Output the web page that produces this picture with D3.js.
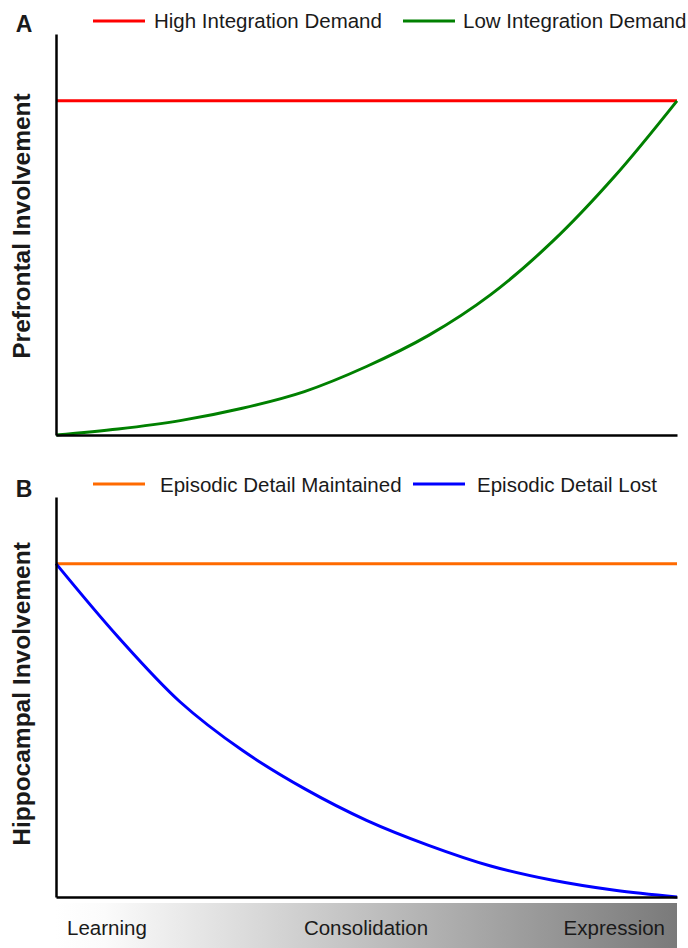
<!DOCTYPE html>
<html>
<head>
<meta charset="utf-8">
<script src="https://cdn.jsdelivr.net/npm/d3@7"></script>
<style>
  body { margin: 0; background: #fff; }
  text { font-family: "Liberation Sans", Arial, sans-serif; fill: #1a1a1a; }
</style>
</head>
<body>
<div id="chart-area"></div>
<script>
// time along the memory timeline (0 = learning, 1 = expression)
var timePoints = [0, 0.1, 0.2, 0.3, 0.4, 0.5, 0.6, 0.7, 0.8, 0.9, 1.0];

// panel A - prefrontal involvement
var highIntegration = [1, 1, 1, 1, 1, 1, 1, 1, 1, 1, 1];
var lowIntegration  = [0, 0.018, 0.043, 0.08, 0.13, 0.205, 0.298, 0.42, 0.58, 0.775, 1.0];

// panel B - hippocampal involvement
var detailMaintained = [1, 1, 1, 1, 1, 1, 1, 1, 1, 1, 1];
var detailLost       = [1.0, 0.78, 0.585, 0.44, 0.325, 0.23, 0.155, 0.093, 0.05, 0.02, 0];

var stageLabels = ["Learning", "Consolidation", "Expression"];

var width = 688, height = 948;

var svg = d3.select("#chart-area")
    .append("svg")
        .attr("width", width)
        .attr("height", height);

var x = d3.scaleLinear()
    .domain([0, 1])
    .range([56, 677]);

var panels = [
    {
        letter: "A", letterY: 32, top: 34, bottom: 435,
        yLabel: "Prefrontal Involvement", yLabelMid: 226,
        legendY: 21, textY: 28,
        series: [
            { name: "High Integration Demand", values: highIntegration, color: "#ff0000", lx: 93, tx: 154 },
            { name: "Low Integration Demand", values: lowIntegration, color: "#008000", lx: 403, tx: 463 }
        ]
    },
    {
        letter: "B", letterY: 497, top: 497, bottom: 897,
        yLabel: "Hippocampal Involvement", yLabelMid: 694,
        legendY: 484, textY: 492,
        series: [
            { name: "Episodic Detail Maintained", values: detailMaintained, color: "#ff6a00", lx: 93, tx: 160 },
            { name: "Episodic Detail Lost", values: detailLost, color: "#0000ff", lx: 413, tx: 477 }
        ]
    }
];

panels.forEach(function(p) {
    var y = d3.scaleLinear()
        .domain([0, 1.2])
        .range([p.bottom, p.top]);

    var line = d3.line()
        .x(function(d) { return x(d.t); })
        .y(function(d) { return y(d.v); })
        .curve(d3.curveCatmullRom.alpha(0.5));

    // series + legend
    p.series.forEach(function(s) {
        var pts = timePoints.map(function(t, i) { return { t: t, v: s.values[i] }; });
        svg.append("path")
            .attr("d", line(pts))
            .attr("fill", "none")
            .attr("stroke", s.color)
            .attr("stroke-width", 3);

        svg.append("line")
            .attr("x1", s.lx).attr("x2", s.lx + 52)
            .attr("y1", p.legendY).attr("y2", p.legendY)
            .attr("stroke", s.color)
            .attr("stroke-width", 3);
        svg.append("text")
            .attr("x", s.tx)
            .attr("y", p.textY)
            .attr("font-size", "20.5px")
            .text(s.name);
    });

    // axes, no ticks
    svg.append("g")
        .attr("transform", "translate(0," + p.bottom + ")")
        .call(d3.axisBottom(x).tickSize(0).tickValues([]))
        .select(".domain")
            .attr("stroke", "#000")
            .attr("stroke-width", 2.5);

    svg.append("g")
        .attr("transform", "translate(" + x(0) + ",0)")
        .call(d3.axisLeft(y).tickSize(0).tickValues([]))
        .select(".domain")
            .attr("stroke", "#000")
            .attr("stroke-width", 2.5);

    // panel letter
    svg.append("text")
        .attr("x", 24)
        .attr("y", p.letterY)
        .attr("font-size", "23px")
        .attr("font-weight", "bold")
        .attr("text-anchor", "middle")
        .text(p.letter);

    // Y label
    svg.append("text")
        .attr("transform", "translate(30," + p.yLabelMid + ") rotate(-90)")
        .attr("font-size", "24.5px")
        .attr("font-weight", "bold")
        .attr("text-anchor", "middle")
        .text(p.yLabel);
});

// stage bar under the x axis
var grad = svg.append("defs").append("linearGradient")
    .attr("id", "stageGrad")
    .attr("x1", "0%").attr("x2", "100%")
    .attr("y1", "0%").attr("y2", "0%");
grad.append("stop").attr("offset", "0%").attr("stop-color", "#ffffff");
grad.append("stop").attr("offset", "8%").attr("stop-color", "#fbfbfb");
grad.append("stop").attr("offset", "100%").attr("stop-color", "#7a7a7a");

svg.append("rect")
    .attr("x", x(0) - 1)
    .attr("y", 903)
    .attr("width", x(1) - x(0) + 1)
    .attr("height", 50)
    .attr("fill", "url(#stageGrad)");

var stageX = d3.scalePoint()
    .domain(stageLabels)
    .range([67, 665]);

svg.selectAll(".stage")
    .data(stageLabels).enter()
    .append("text")
        .attr("class", "stage")
        .attr("x", function(d) { return stageX(d); })
        .attr("y", 935)
        .attr("font-size", "20.5px")
        .attr("text-anchor", function(d, i) { return i === 0 ? "start" : (i === 1 ? "middle" : "end"); })
        .text(function(d) { return d; });
</script>
</body>
</html>
